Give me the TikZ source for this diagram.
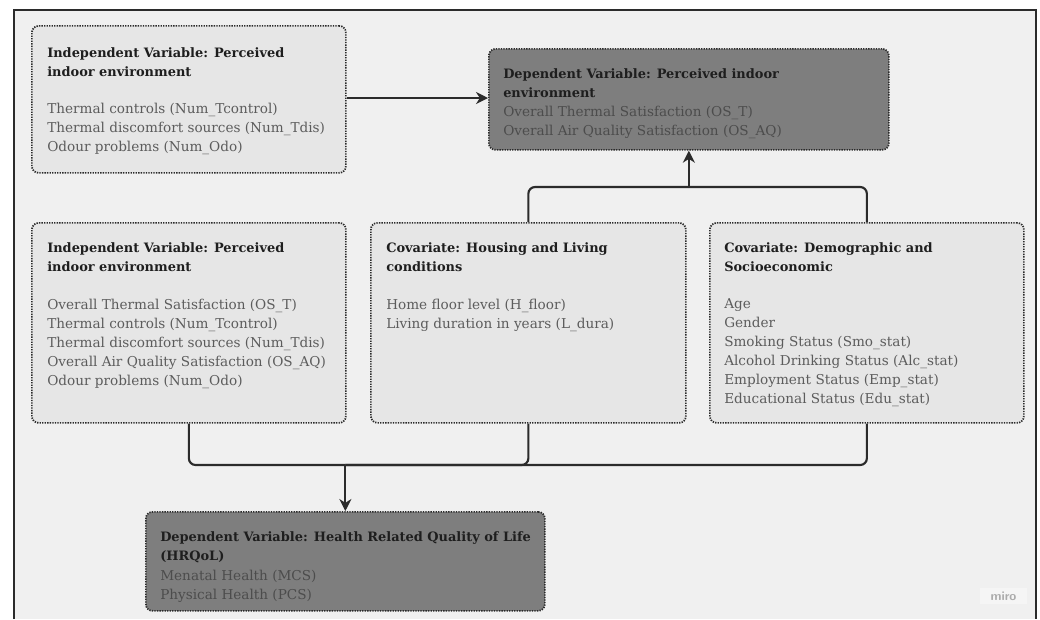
\documentclass[tikz,border=0pt]{standalone}
\usepackage{fontspec}
\setmainfont{DejaVu Serif}
\usetikzlibrary{arrows.meta}
\definecolor{bgc}{HTML}{F0F0F0}
\definecolor{lightbox}{HTML}{E6E6E6}
\definecolor{darkbox}{HTML}{7E7E7E}
\definecolor{edgec}{HTML}{2B2B2B}
\definecolor{titlec}{HTML}{1E1E1E}
\definecolor{bodyc}{HTML}{5C5C5C}
\definecolor{bodydark}{HTML}{4C4C4C}
\definecolor{miroc}{HTML}{ABABAB}
\definecolor{mirobg}{HTML}{F5F5F5}
\tikzset{
  box/.style={draw=edgec, line width=1.3pt, dash pattern=on 1pt off 0.9pt, rounded corners=5pt, inner sep=0pt, anchor=north west},
  lbox/.style={box, fill=lightbox},
  dbox/.style={box, fill=darkbox},
  txt/.style={anchor=north west, inner sep=0pt, align=left, execute at begin node=\strut},
  ttl/.style={txt, text=titlec, font=\fontsize{9.7}{14.25}\selectfont\bfseries},
  bdy/.style={txt, text=bodyc, font=\fontsize{10.2}{14.25}\selectfont},
  bdyd/.style={bdy, text=bodydark},
  conn/.style={draw=edgec, line width=1.6pt, rounded corners=5pt},
  arr/.style={conn, -{Stealth[length=9pt,width=9pt]}}
}
\begin{document}
\begin{tikzpicture}[x=0.75pt,y=-0.75pt]
\useasboundingbox (0,0) rectangle (1040,619);
\fill[white] (0,0) rectangle (1040,619);
\fill[bgc] (14,10) rectangle (1036,619);
\draw[edgec, line width=1.5pt] (14,619) -- (14,10) -- (1036,10) -- (1036,619);

% boxes
\node[lbox, minimum width=314*0.75pt, minimum height=147*0.75pt] (iv1) at (31,25) {};
\node[dbox, minimum width=400*0.75pt, minimum height=101*0.75pt] (dv1) at (488,48) {};
\node[lbox, minimum width=314*0.75pt, minimum height=200*0.75pt] (iv2) at (31,222) {};
\node[lbox, minimum width=315*0.75pt, minimum height=200*0.75pt] (cv1) at (370,222) {};
\node[lbox, minimum width=314*0.75pt, minimum height=200*0.75pt] (cv2) at (709,222) {};
\node[dbox, minimum width=399*0.75pt, minimum height=99*0.75pt] (dv2) at (145,511) {};

% texts
\node[ttl] (t1) at (47,47) {Independent Variable: Perceived\\indoor environment};
\node[bdy] (b1) at (47,103) {Thermal controls (Num\_Tcontrol)\\Thermal discomfort sources (Num\_Tdis)\\Odour problems (Num\_Odo)};

\node[ttl] (t2) at (503,68) {Dependent Variable: Perceived indoor\\environment};
\node[bdyd] (b2) at (503,106) {Overall Thermal Satisfaction (OS\_T)\\Overall Air Quality Satisfaction (OS\_AQ)};

\node[ttl] (t3) at (47,242) {Independent Variable: Perceived\\indoor environment};
\node[bdy] (b3) at (47,298.5) {Overall Thermal Satisfaction (OS\_T)\\Thermal controls (Num\_Tcontrol)\\Thermal discomfort sources (Num\_Tdis)\\Overall Air Quality Satisfaction (OS\_AQ)\\Odour problems (Num\_Odo)};

\node[ttl] (t4) at (386,242) {Covariate: Housing and Living\\conditions};
\node[bdy] (b4) at (386,298.5) {Home floor level (H\_floor)\\Living duration in years (L\_dura)};

\node[ttl] (t5) at (724,242) {Covariate: Demographic and\\Socioeconomic};
\node[bdy] (b5) at (724,298.5) {Age\\Gender\\Smoking Status (Smo\_stat)\\Alcohol Drinking Status (Alc\_stat)\\Employment Status (Emp\_stat)\\Educational Status (Edu\_stat)};

\node[ttl] (t6) at (160,531) {Dependent Variable: Health Related Quality of Life\\(HRQoL)};
\node[bdyd] (b6) at (160,569.5) {Menatal Health (MCS)\\Physical Health (PCS)};

% miro mark
\node[fill=mirobg, text=miroc, font=\sffamily\bfseries\fontsize{9.5}{10}\selectfont, minimum width=47*0.75pt, minimum height=16*0.75pt, inner sep=0pt] (miro) at (1003.5,596) {miro};

% connectors
\coordinate (jt) at (dv1.south |- 0,187);
\coordinate (jb) at (dv2.north |- 0,465);
\draw[arr] (iv1.east |- 0,98) -- (dv1.west |- 0,98);
\draw[conn] (cv1.north) |- (jt);
\draw[conn] (cv2.north) |- (jt);
\draw[arr] (jt) -- (dv1.south);
\draw[conn] (iv2.south) |- (jb);
\draw[conn] (cv1.south) |- (jb);
\draw[conn] (cv2.south) |- (jb);
\draw[arr] (jb) -- (dv2.north);
\end{tikzpicture}
\end{document}
